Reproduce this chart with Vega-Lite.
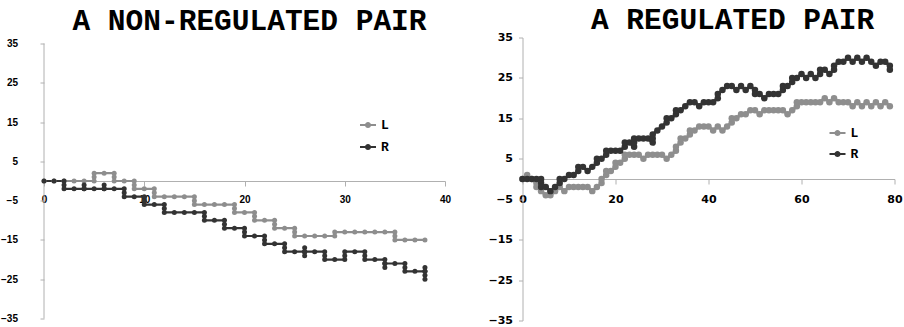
{
  "$schema": "https://vega.github.io/schema/vega-lite/v6.json",
  "padding": {"left": 0, "top": 4.5, "right": 0, "bottom": 0},
  "config": {
    "view": {"stroke": null},
    "font": "DejaVu Sans",
    "axis": {"grid": false, "domainColor": "#b0b0b0", "tickColor": "#b0b0b0", "tickSize": 4, "labelColor": "#000000", "labelFont": "Liberation Sans", "labelFontSize": 10, "labelFontWeight": "bold", "title": null},
    "legend": {"orient": "none", "title": null, "labelFont": "Liberation Mono", "labelFontWeight": "bold", "labelFontSize": 13, "labelColor": "#000000", "symbolType": "M-1,-0.12L1,-0.12L1,0.12L-1,0.12Z M0.38,0A0.38,0.38 0 1,1 -0.38,0A0.38,0.38 0 1,1 0.38,0Z", "symbolSize": 256, "symbolStrokeWidth": 0, "labelOffset": 5},
    "title": {"font": "Liberation Mono", "fontWeight": "bold", "fontSize": 29.5, "color": "#000000", "anchor": "middle", "frame": "group", "baseline": "alphabetic"}
  },
  "datasets": {
    "a": [
      {"s":"L","x":0,"y":0},{"s":"L","x":1,"y":0},{"s":"L","x":2,"y":0},{"s":"L","x":3,"y":0},{"s":"L","x":4,"y":0},{"s":"L","x":5,"y":0},{"s":"L","x":5,"y":1},{"s":"L","x":5,"y":2},{"s":"L","x":6,"y":2},{"s":"L","x":7,"y":2},{"s":"L","x":7,"y":1},{"s":"L","x":7,"y":0},{"s":"L","x":8,"y":0},{"s":"L","x":9,"y":0},{"s":"L","x":9,"y":-1},{"s":"L","x":9,"y":-2},{"s":"L","x":10,"y":-2},{"s":"L","x":11,"y":-2},{"s":"L","x":11,"y":-3},{"s":"L","x":11,"y":-4},{"s":"L","x":12,"y":-4},{"s":"L","x":13,"y":-4},{"s":"L","x":14,"y":-4},{"s":"L","x":15,"y":-4},{"s":"L","x":15,"y":-5},{"s":"L","x":15,"y":-6},{"s":"L","x":16,"y":-6},{"s":"L","x":17,"y":-6},{"s":"L","x":18,"y":-6},{"s":"L","x":19,"y":-6},{"s":"L","x":19,"y":-7},{"s":"L","x":19,"y":-8},{"s":"L","x":20,"y":-8},{"s":"L","x":21,"y":-8},{"s":"L","x":21,"y":-9},{"s":"L","x":21,"y":-10},{"s":"L","x":22,"y":-10},{"s":"L","x":23,"y":-10},{"s":"L","x":23,"y":-11},{"s":"L","x":23,"y":-12},{"s":"L","x":24,"y":-12},{"s":"L","x":25,"y":-12},{"s":"L","x":25,"y":-13},{"s":"L","x":25,"y":-14},{"s":"L","x":26,"y":-14},{"s":"L","x":27,"y":-14},{"s":"L","x":28,"y":-14},{"s":"L","x":29,"y":-14},{"s":"L","x":29,"y":-13},{"s":"L","x":30,"y":-13},{"s":"L","x":31,"y":-13},{"s":"L","x":32,"y":-13},{"s":"L","x":33,"y":-13},{"s":"L","x":34,"y":-13},{"s":"L","x":35,"y":-13},{"s":"L","x":35,"y":-14},{"s":"L","x":35,"y":-15},{"s":"L","x":36,"y":-15},{"s":"L","x":37,"y":-15},{"s":"L","x":38,"y":-15},
      {"s":"R","x":0,"y":0},{"s":"R","x":1,"y":0},{"s":"R","x":2,"y":0},{"s":"R","x":2,"y":-1},{"s":"R","x":2,"y":-2},{"s":"R","x":3,"y":-2},{"s":"R","x":4,"y":-2},{"s":"R","x":4,"y":-1},{"s":"R","x":4,"y":-2},{"s":"R","x":5,"y":-2},{"s":"R","x":6,"y":-2},{"s":"R","x":6,"y":-1},{"s":"R","x":6,"y":-2},{"s":"R","x":7,"y":-2},{"s":"R","x":8,"y":-2},{"s":"R","x":8,"y":-3},{"s":"R","x":8,"y":-4},{"s":"R","x":9,"y":-4},{"s":"R","x":10,"y":-4},{"s":"R","x":10,"y":-5},{"s":"R","x":10,"y":-6},{"s":"R","x":11,"y":-6},{"s":"R","x":12,"y":-6},{"s":"R","x":12,"y":-7},{"s":"R","x":12,"y":-8},{"s":"R","x":13,"y":-8},{"s":"R","x":14,"y":-8},{"s":"R","x":15,"y":-8},{"s":"R","x":16,"y":-8},{"s":"R","x":16,"y":-9},{"s":"R","x":16,"y":-10},{"s":"R","x":17,"y":-10},{"s":"R","x":18,"y":-10},{"s":"R","x":18,"y":-11},{"s":"R","x":18,"y":-12},{"s":"R","x":19,"y":-12},{"s":"R","x":20,"y":-12},{"s":"R","x":20,"y":-13},{"s":"R","x":20,"y":-14},{"s":"R","x":21,"y":-14},{"s":"R","x":22,"y":-14},{"s":"R","x":22,"y":-15},{"s":"R","x":22,"y":-16},{"s":"R","x":23,"y":-16},{"s":"R","x":24,"y":-16},{"s":"R","x":24,"y":-17},{"s":"R","x":24,"y":-18},{"s":"R","x":25,"y":-18},{"s":"R","x":26,"y":-18},{"s":"R","x":26,"y":-17},{"s":"R","x":26,"y":-18},{"s":"R","x":26,"y":-19},{"s":"R","x":26,"y":-18},{"s":"R","x":27,"y":-18},{"s":"R","x":28,"y":-18},{"s":"R","x":28,"y":-19},{"s":"R","x":28,"y":-20},{"s":"R","x":29,"y":-20},{"s":"R","x":30,"y":-20},{"s":"R","x":30,"y":-19},{"s":"R","x":30,"y":-18},{"s":"R","x":31,"y":-18},{"s":"R","x":32,"y":-18},{"s":"R","x":32,"y":-19},{"s":"R","x":32,"y":-20},{"s":"R","x":33,"y":-20},{"s":"R","x":34,"y":-20},{"s":"R","x":34,"y":-21},{"s":"R","x":34,"y":-22},{"s":"R","x":34,"y":-21},{"s":"R","x":35,"y":-21},{"s":"R","x":36,"y":-21},{"s":"R","x":36,"y":-22},{"s":"R","x":36,"y":-23},{"s":"R","x":37,"y":-23},{"s":"R","x":38,"y":-23},{"s":"R","x":38,"y":-22},{"s":"R","x":38,"y":-23},{"s":"R","x":38,"y":-24},{"s":"R","x":38,"y":-25}
    ],
    "b": [
      {"s":"L","x":0,"y":0},{"s":"L","x":1,"y":1},{"s":"L","x":2,"y":0},{"s":"L","x":3,"y":-1},{"s":"L","x":3,"y":-2},{"s":"L","x":4,"y":-3},{"s":"L","x":5,"y":-4},{"s":"L","x":6,"y":-4},{"s":"L","x":7,"y":-3},{"s":"L","x":8,"y":-2},{"s":"L","x":9,"y":-3},{"s":"L","x":10,"y":-2},{"s":"L","x":11,"y":-2},{"s":"L","x":12,"y":-2},{"s":"L","x":13,"y":-2},{"s":"L","x":14,"y":-2},{"s":"L","x":15,"y":-3},{"s":"L","x":16,"y":-2},{"s":"L","x":17,"y":-1},{"s":"L","x":17,"y":0},{"s":"L","x":18,"y":1},{"s":"L","x":18,"y":2},{"s":"L","x":19,"y":2},{"s":"L","x":20,"y":3},{"s":"L","x":20,"y":4},{"s":"L","x":21,"y":4},{"s":"L","x":22,"y":5},{"s":"L","x":22,"y":6},{"s":"L","x":23,"y":6},{"s":"L","x":24,"y":6},{"s":"L","x":25,"y":6},{"s":"L","x":26,"y":5},{"s":"L","x":27,"y":6},{"s":"L","x":28,"y":6},{"s":"L","x":29,"y":6},{"s":"L","x":30,"y":6},{"s":"L","x":31,"y":5},{"s":"L","x":32,"y":6},{"s":"L","x":33,"y":7},{"s":"L","x":33,"y":8},{"s":"L","x":34,"y":9},{"s":"L","x":34,"y":10},{"s":"L","x":35,"y":10},{"s":"L","x":36,"y":11},{"s":"L","x":36,"y":12},{"s":"L","x":37,"y":12},{"s":"L","x":38,"y":13},{"s":"L","x":39,"y":13},{"s":"L","x":40,"y":13},{"s":"L","x":41,"y":12},{"s":"L","x":42,"y":13},{"s":"L","x":43,"y":12},{"s":"L","x":44,"y":13},{"s":"L","x":45,"y":14},{"s":"L","x":45,"y":15},{"s":"L","x":46,"y":15},{"s":"L","x":47,"y":16},{"s":"L","x":48,"y":16},{"s":"L","x":49,"y":17},{"s":"L","x":50,"y":17},{"s":"L","x":51,"y":16},{"s":"L","x":52,"y":17},{"s":"L","x":53,"y":17},{"s":"L","x":54,"y":17},{"s":"L","x":55,"y":17},{"s":"L","x":56,"y":17},{"s":"L","x":57,"y":16},{"s":"L","x":58,"y":17},{"s":"L","x":59,"y":18},{"s":"L","x":59,"y":19},{"s":"L","x":60,"y":19},{"s":"L","x":61,"y":19},{"s":"L","x":62,"y":19},{"s":"L","x":63,"y":19},{"s":"L","x":64,"y":19},{"s":"L","x":65,"y":20},{"s":"L","x":66,"y":19},{"s":"L","x":67,"y":20},{"s":"L","x":68,"y":19},{"s":"L","x":69,"y":19},{"s":"L","x":70,"y":19},{"s":"L","x":71,"y":18},{"s":"L","x":72,"y":19},{"s":"L","x":73,"y":18},{"s":"L","x":74,"y":19},{"s":"L","x":75,"y":18},{"s":"L","x":76,"y":19},{"s":"L","x":77,"y":18},{"s":"L","x":78,"y":19},{"s":"L","x":79,"y":18},
      {"s":"R","x":0,"y":0},{"s":"R","x":1,"y":0},{"s":"R","x":2,"y":0},{"s":"R","x":3,"y":0},{"s":"R","x":4,"y":0},{"s":"R","x":4,"y":-1},{"s":"R","x":4,"y":-2},{"s":"R","x":5,"y":-2},{"s":"R","x":6,"y":-3},{"s":"R","x":7,"y":-2},{"s":"R","x":8,"y":-1},{"s":"R","x":8,"y":0},{"s":"R","x":9,"y":0},{"s":"R","x":10,"y":1},{"s":"R","x":11,"y":1},{"s":"R","x":12,"y":2},{"s":"R","x":12,"y":3},{"s":"R","x":13,"y":3},{"s":"R","x":14,"y":2},{"s":"R","x":15,"y":3},{"s":"R","x":16,"y":4},{"s":"R","x":16,"y":5},{"s":"R","x":17,"y":5},{"s":"R","x":18,"y":6},{"s":"R","x":18,"y":7},{"s":"R","x":19,"y":7},{"s":"R","x":20,"y":7},{"s":"R","x":21,"y":7},{"s":"R","x":22,"y":8},{"s":"R","x":22,"y":9},{"s":"R","x":23,"y":9},{"s":"R","x":24,"y":8},{"s":"R","x":24,"y":9},{"s":"R","x":24,"y":10},{"s":"R","x":25,"y":10},{"s":"R","x":26,"y":10},{"s":"R","x":27,"y":10},{"s":"R","x":28,"y":9},{"s":"R","x":28,"y":10},{"s":"R","x":28,"y":11},{"s":"R","x":29,"y":12},{"s":"R","x":30,"y":13},{"s":"R","x":31,"y":14},{"s":"R","x":31,"y":15},{"s":"R","x":32,"y":15},{"s":"R","x":33,"y":16},{"s":"R","x":33,"y":17},{"s":"R","x":34,"y":17},{"s":"R","x":35,"y":18},{"s":"R","x":36,"y":19},{"s":"R","x":37,"y":19},{"s":"R","x":38,"y":18},{"s":"R","x":39,"y":19},{"s":"R","x":40,"y":19},{"s":"R","x":41,"y":19},{"s":"R","x":42,"y":20},{"s":"R","x":42,"y":21},{"s":"R","x":43,"y":22},{"s":"R","x":44,"y":23},{"s":"R","x":45,"y":23},{"s":"R","x":46,"y":22},{"s":"R","x":47,"y":23},{"s":"R","x":48,"y":22},{"s":"R","x":49,"y":23},{"s":"R","x":50,"y":22},{"s":"R","x":50,"y":21},{"s":"R","x":51,"y":21},{"s":"R","x":52,"y":20},{"s":"R","x":53,"y":21},{"s":"R","x":54,"y":21},{"s":"R","x":55,"y":21},{"s":"R","x":56,"y":22},{"s":"R","x":56,"y":23},{"s":"R","x":57,"y":23},{"s":"R","x":58,"y":24},{"s":"R","x":58,"y":25},{"s":"R","x":59,"y":25},{"s":"R","x":60,"y":26},{"s":"R","x":61,"y":25},{"s":"R","x":62,"y":26},{"s":"R","x":63,"y":25},{"s":"R","x":64,"y":26},{"s":"R","x":64,"y":27},{"s":"R","x":65,"y":27},{"s":"R","x":66,"y":26},{"s":"R","x":67,"y":27},{"s":"R","x":67,"y":28},{"s":"R","x":68,"y":29},{"s":"R","x":69,"y":29},{"s":"R","x":70,"y":30},{"s":"R","x":71,"y":29},{"s":"R","x":72,"y":30},{"s":"R","x":73,"y":29},{"s":"R","x":74,"y":30},{"s":"R","x":75,"y":29},{"s":"R","x":76,"y":28},{"s":"R","x":77,"y":29},{"s":"R","x":78,"y":29},{"s":"R","x":79,"y":28},{"s":"R","x":79,"y":27}
    ]
  },
  "spacing": 36.5,
  "resolve": {"scale": {"color": "independent", "x": "independent", "y": "independent"}, "legend": {"color": "independent"}},
  "hconcat": [
    {
      "title": {"text": "A NON-REGULATED PAIR", "dx": 5, "offset": 1},
      "width": 401,
      "height": 281,
      "encoding": {
        "x": {"type": "quantitative", "scale": {"domain": [0, 40], "nice": false}, "axis": {"values": [0, 10, 20, 30, 40], "offset": -137.5, "labelPadding": 8.5, "tickSize": 5, "labelFlush": false}},
        "y": {"type": "quantitative", "scale": {"domain": [-35, 36.53], "nice": false, "zero": false}, "axis": {"values": [-35, -25, -15, -5, 5, 15, 25, 35], "labelPadding": 22.5, "domain": false}}
      },
      "layer": [
        {"data": {"values": [{"a": -35, "b": 35}]}, "mark": {"type": "rule", "color": "#b0b0b0", "strokeWidth": 1}, "encoding": {"x": {"datum": 0, "type": "quantitative"}, "y": {"field": "a", "type": "quantitative"}, "y2": {"field": "b"}}},
        {"data": {"name": "a"}, "mark": {"type": "line", "strokeWidth": 2.2}, "encoding": {"x": {"field": "x", "type": "quantitative"}, "y": {"field": "y", "type": "quantitative"}, "order": {"value": null}, "color": {"field": "s", "type": "nominal", "scale": {"domain": ["L", "R"], "range": ["#8e8e8e", "#333333"]}, "legend": {"legendX": 316, "legendY": 79.5, "rowPadding": 7}}}},
        {"data": {"name": "a"}, "mark": {"type": "point", "filled": true, "opacity": 1, "size": 25, "shape": "circle"}, "encoding": {"x": {"field": "x", "type": "quantitative"}, "y": {"field": "y", "type": "quantitative"}, "color": {"field": "s", "type": "nominal"}}}
      ]
    },
    {
      "title": {"text": "A REGULATED PAIR", "dx": 24, "offset": -4},
      "width": 372,
      "height": 283,
      "data": {"name": "b"},
      "encoding": {
        "x": {"field": "x", "type": "quantitative", "scale": {"domain": [0, 80], "nice": false}, "axis": {"values": [0, 20, 40, 60, 80], "offset": -141.5, "labelPadding": 9, "tickSize": 5, "labelFlush": false, "labelFont": "DejaVu Sans", "labelFontSize": 11}},
        "y": {"field": "y", "type": "quantitative", "scale": {"domain": [-35, 35], "nice": false, "zero": false}, "axis": {"values": [-35, -25, -15, -5, 5, 15, 25, 35], "labelPadding": 6, "labelFont": "DejaVu Sans", "labelFontSize": 11}},
        "color": {"field": "s", "type": "nominal", "scale": {"domain": ["L", "R"], "range": ["#8e8e8e", "#333333"]}, "legend": {"legendX": 307, "legendY": 87.5, "rowPadding": 6}}
      },
      "layer": [
        {"mark": {"type": "line", "strokeWidth": 3}, "encoding": {"order": {"value": null}}},
        {"mark": {"type": "point", "filled": true, "opacity": 1, "size": 42, "shape": "circle"}}
      ]
    }
  ]
}
